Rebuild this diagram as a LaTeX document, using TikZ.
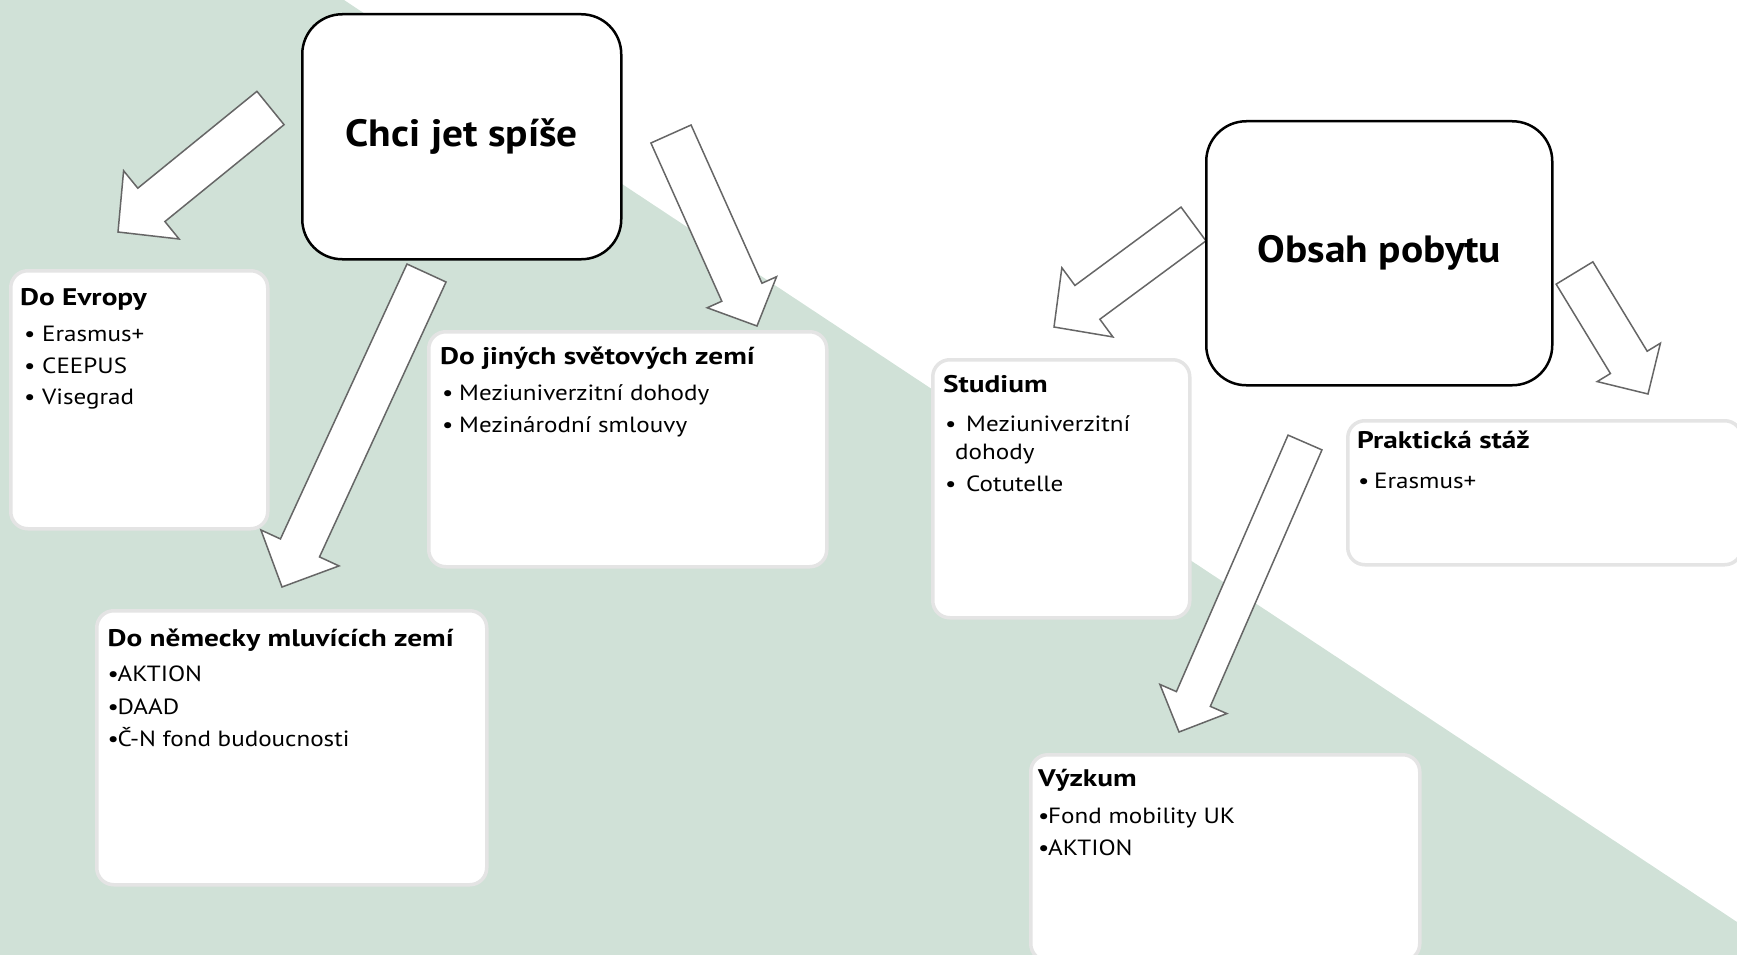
\documentclass[tikz,border=0pt]{standalone}
\usepackage{fontspec}
\setmainfont{PT Sans}
\newfontfamily\bodyfont[FakeStretch=1.14]{PT Sans}
\newfontfamily\headfont[FakeStretch=1.22]{PT Sans}
\newfontfamily\bigfont[FakeStretch=1.09]{PT Sans}
\usetikzlibrary{calc}
\definecolor{bggreen}{RGB}{208,225,215}
\definecolor{arrgray}{RGB}{102,102,102}
\definecolor{boxgray}{RGB}{228,228,228}
\tikzset{
 bigbox/.style={draw=black, line width=2.5pt, fill=white, rounded corners=40pt, anchor=north west, inner sep=0pt},
 smallbox/.style={draw=boxgray, line width=3.5pt, fill=white, rounded corners=17pt, anchor=north west, inner sep=0pt},
 blk/.style={draw=arrgray, line width=1.5pt, fill=white, line join=miter},
 ttl/.style={anchor=base west, inner sep=0pt, font=\headfont\fontsize{24}{28}\selectfont\bfseries},
 itm/.style={anchor=base west, inner sep=0pt, font=\bodyfont\fontsize{22}{28}\selectfont},
 bigtxt/.style={inner sep=0pt, font=\bigfont\fontsize{38}{42}\selectfont\bfseries}
}
\newcommand\bul[1]{\makebox[#1][l]{•}}
% #1 tail, #2 tip, #3 half shaft, #4 half head, #5 head length
\newcommand\blockarr[5]{%
  \coordinate (bh) at ($(#2)!#5!(#1)$);
  \draw[blk] ($(#1)!#3!90:(#2)$) -- ($(bh)!#3!90:(#2)$) -- ($(bh)!#4!90:(#2)$) -- (#2)
    -- ($(bh)!#4!-90:(#2)$) -- ($(bh)!#3!-90:(#2)$) -- ($(#1)!#3!-90:(#2)$) -- cycle;}
\begin{document}
\begin{tikzpicture}[x=1pt,y=-1pt]
\useasboundingbox (0,0) rectangle (1737,955);
\clip (0,0) rectangle (1737,955);
\fill[bggreen] (0,0) -- (344,0) -- (1737,922) -- (1737,955) -- (0,955) -- cycle;

% small boxes
\node[smallbox, minimum width=257pt, minimum height=258pt] (evr) at (9,269) {};
\node[smallbox, minimum width=398pt, minimum height=235pt] (jin) at (427,330) {};
\node[smallbox, minimum width=390pt, minimum height=274pt] (nem) at (95,609) {};
\node[smallbox, minimum width=257pt, minimum height=258pt] (stu) at (931,358) {};
\node[smallbox, minimum width=394pt, minimum height=144pt] (pra) at (1346,419) {};
\node[smallbox, minimum width=389pt, minimum height=206pt] (vyz) at (1029,753) {};

% arrow coordinates
\coordinate (a1t) at (270.5,108); \coordinate (a1h) at (118,232);
\coordinate (a2t) at (426.5,273); \coordinate (a2h) at (282,587);
\coordinate (a3t) at (671,134);   \coordinate (a3h) at (757,326);
\coordinate (a4t) at (1193.5,224); \coordinate (a4h) at (1054,327);
\coordinate (a5t) at (1574.5,273); \coordinate (a5h) at (1648,394);
\coordinate (a6t) at (1305,442.5); \coordinate (a6h) at (1179,732);

\blockarr{a1t}{a1h}{21.5pt}{44pt}{43pt}
\blockarr{a2t}{a2h}{21.5pt}{43pt}{43pt}
\blockarr{a3t}{a3h}{22pt}{38pt}{37pt}
\blockarr{a4t}{a4h}{21pt}{43pt}{41.5pt}
\blockarr{a5t}{a5h}{21.5pt}{37pt}{37pt}
\blockarr{a6t}{a6h}{18.5pt}{36.5pt}{36pt}

% big boxes
\node[bigbox, minimum width=319pt, minimum height=245pt] (chci) at (301,13) {};
\node[bigtxt] (chcit) at (chci.center) {Chci jet spíše};
\node[bigbox, minimum width=346pt, minimum height=264pt] (obs) at (1205,120) {};
\node[bigtxt] (obst) at (obs.center) {Obsah pobytu};

% Do Evropy
\node[ttl] (evr0) at (20,305) {Do Evropy};
\node[itm] (evr1) at (24,341.5) {\bul{18pt}Erasmus+};
\node[itm] (evr2) at (24,373) {\bul{18pt}CEEPUS};
\node[itm] (evr3) at (24,404.5) {\bul{18pt}Visegrad};

% Do jinych
\node[ttl] (jin0) at (440,364) {Do jiných světových zemí};
\node[itm] (jin1) at (442,400) {\bul{17pt}Meziuniverzitní dohody};
\node[itm] (jin2) at (442,432) {\bul{17pt}Mezinárodní smlouvy};

% Do nemecky
\node[ttl] (nem0) at (107.5,646) {Do německy mluvících zemí};
\node[itm] (nem1) at (107.5,681.5) {\bul{10pt}AKTION};
\node[itm] (nem2) at (107.5,714) {\bul{10pt}DAAD};
\node[itm] (nem3) at (107.5,746) {\bul{10pt}Č-N fond budoucnosti};

% Studium
\node[ttl] (stu0) at (943,392.5) {Studium};
\node[itm] (stu1) at (945,431) {\bul{21pt}Meziuniverzitní};
\node[itm] (stu2) at (955,459) {dohody};
\node[itm] (stu3) at (945,491) {\bul{21pt}Cotutelle};

% Prakticka
\node[ttl] (pra0) at (1357,448) {Praktická stáž};
\node[itm] (pra1) at (1358,488) {\bul{16pt}Erasmus+};

% Vyzkum
\node[ttl] (vyz0) at (1038,786) {Výzkum};
\node[itm] (vyz1) at (1038,823.5) {\bul{10pt}Fond mobility UK};
\node[itm] (vyz2) at (1038,855.5) {\bul{10pt}AKTION};
\end{tikzpicture}
\end{document}
